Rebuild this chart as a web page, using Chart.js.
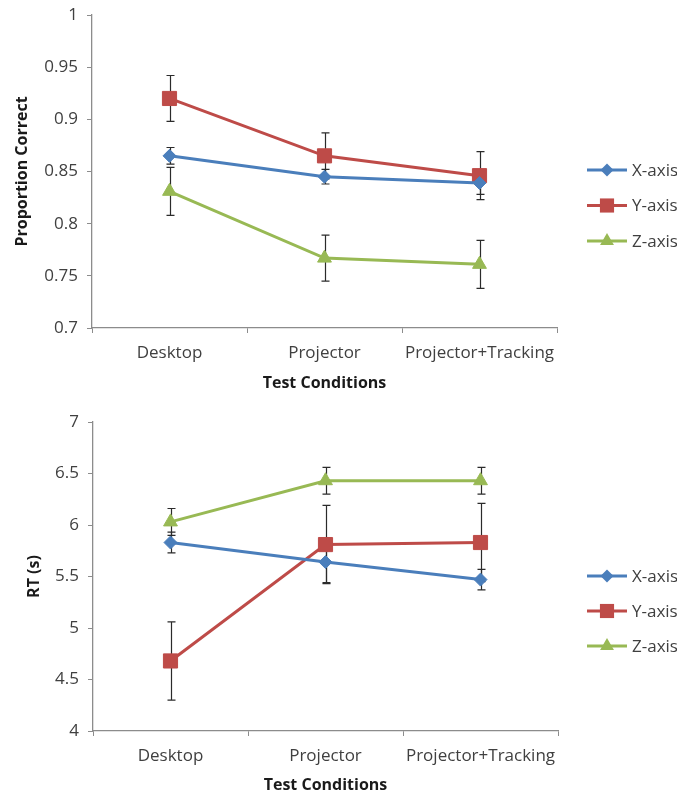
<!DOCTYPE html>
<html>
<head>
<meta charset="utf-8">
<script src="https://cdn.jsdelivr.net/npm/chart.js@4.4.1/dist/chart.umd.min.js"></script>
<style>
  body { margin: 0; background: #fff; }
  .panel { position: absolute; left: 0; width: 677px; }
</style>
</head>
<body>
<div class="panel" style="top:0;height:400px"><canvas id="acc-chart"></canvas></div>
<div class="panel" style="top:400px;height:397px"><canvas id="rt-chart"></canvas></div>
<script>
/* ── Données ── */
const conditions = ['Desktop', 'Projector', 'Projector+Tracking'];

const accX = [0.865, 0.845, 0.839];
const accXErr = [0.008, 0.007, 0.011];
const accY = [0.920, 0.865, 0.846];
const accYErr = [0.022, 0.022, 0.023];
const accZ = [0.831, 0.767, 0.761];
const accZErr = [0.023, 0.022, 0.023];
const accTicks = [0.7, 0.75, 0.8, 0.85, 0.9, 0.95, 1];

const rtX = [5.83, 5.64, 5.47];
const rtXErr = [0.10, 0.20, 0.10];
const rtY = [4.68, 5.81, 5.83];
const rtYErr = [0.38, 0.38, 0.38];
const rtZ = [6.03, 6.43, 6.43];
const rtZErr = [0.13, 0.13, 0.13];
const rtTicks = [4, 4.5, 5, 5.5, 6, 6.5, 7];

/* ── Style ── */
const AXIS = '#8c8c8c';
const TEXT = '#404040';
const TITLE = '#1a1a1a';
const FONT = '"Open Sans", "Liberation Sans", sans-serif';

const SERIES = [
  { name: 'X-axis', color: '#4A7EBB', marker: 'rectRot', radius: 6.5 },
  { name: 'Y-axis', color: '#BE4B48', marker: 'rect', radius: 10 },
  { name: 'Z-axis', color: '#98B954', marker: 'triangle', radius: 8 },
];

/* ── Barres d'erreur ── */
const errorBars = {
  id: 'errorBars',
  beforeDatasetsDraw(chart, args, opts) {
    const { ctx } = chart;
    const y = chart.scales.y;
    ctx.save();
    ctx.strokeStyle = opts.color;
    ctx.lineWidth = opts.width;
    chart.data.datasets.forEach((ds, i) => {
      chart.getDatasetMeta(i).data.forEach((pt, j) => {
        const v = ds.data[j], e = ds.errors[j];
        const top = y.getPixelForValue(v + e);
        const bot = y.getPixelForValue(v - e);
        const x = Math.round(pt.x) + 0.5;
        ctx.beginPath();
        ctx.moveTo(x, top); ctx.lineTo(x, bot);
        ctx.moveTo(x - opts.cap, top); ctx.lineTo(x + opts.cap, top);
        ctx.moveTo(x - opts.cap, bot); ctx.lineTo(x + opts.cap, bot);
        ctx.stroke();
      });
    });
    ctx.restore();
  }
};

/* ── Légende à droite (ligne + marqueur) ── */
function drawMarker(ctx, style, x, y, r) {
  ctx.beginPath();
  if (style === 'rectRot') {
    ctx.moveTo(x - r, y); ctx.lineTo(x, y - r); ctx.lineTo(x + r, y); ctx.lineTo(x, y + r);
  } else if (style === 'rect') {
    const s = r * Math.SQRT1_2;
    ctx.rect(x - s, y - s, 2 * s, 2 * s);
  } else {
    const a = Math.PI * 2 / 3;
    ctx.moveTo(x, y - r);
    ctx.lineTo(x + Math.sin(a) * r, y - Math.cos(a) * r);
    ctx.lineTo(x - Math.sin(a) * r, y - Math.cos(a) * r);
  }
  ctx.closePath();
  ctx.fill();
}

const sideLegend = {
  id: 'sideLegend',
  afterDraw(chart, args, opts) {
    const { ctx } = chart;
    ctx.save();
    ctx.font = '17px ' + FONT;
    ctx.textBaseline = 'middle';
    SERIES.forEach((s, i) => {
      const y = opts.top + i * opts.gap;
      ctx.strokeStyle = s.color;
      ctx.fillStyle = s.color;
      ctx.lineWidth = 3;
      ctx.beginPath();
      ctx.moveTo(opts.x, y); ctx.lineTo(opts.x + 40, y);
      ctx.stroke();
      drawMarker(ctx, s.marker, opts.x + 20, y, s.radius);
      ctx.fillStyle = TEXT;
      ctx.fillText(s.name, opts.x + 45, y + 1);
    });
    ctx.restore();
  }
};

/* ── Construction d'un graphique ── */
function makeChart(id, cfg) {
  return new Chart(document.getElementById(id), {
    type: 'line',
    data: {
      labels: conditions,
      datasets: SERIES.map((s, i) => ({
        label: s.name,
        data: cfg.values[i],
        errors: cfg.errors[i],
        borderColor: s.color,
        backgroundColor: s.color,
        pointBackgroundColor: s.color,
        pointBorderColor: s.color,
        pointStyle: s.marker,
        pointRadius: s.radius,
        pointHoverRadius: s.radius,
        pointBorderWidth: 1,
        borderWidth: 3,
        tension: 0,
        clip: false,
      }))
    },
    options: {
      responsive: true,
      maintainAspectRatio: false,
      animation: false,
      events: [],
      layout: { padding: { top: cfg.padTop, right: cfg.padRight, bottom: 0, left: cfg.padLeft } },
      plugins: {
        legend: { display: false },
        tooltip: { enabled: false },
        errorBars: { color: '#2b2b2b', width: 1.2, cap: 4 },
        sideLegend: { x: 587, top: cfg.legendTop, gap: cfg.legendGap },
      },
      scales: {
        x: {
          offset: true,
          grid: { display: true, drawOnChartArea: false, offset: true, tickLength: 5, color: AXIS },
          border: { color: AXIS, width: 1.3 },
          ticks: { color: TEXT, font: { family: FONT, size: 17 }, padding: cfg.xTickPad, maxRotation: 0 },
          title: {
            display: true, text: 'Test Conditions', color: TITLE,
            font: { family: FONT, size: 16, weight: 'bold' },
            padding: { top: 0, bottom: cfg.xTitlePad }
          },
          afterFit: s => { s.height = cfg.xHeight; s.paddingLeft = 0; s.paddingRight = 0; }
        },
        y: {
          min: cfg.ticks[0],
          max: cfg.ticks[cfg.ticks.length - 1],
          afterBuildTicks: s => { s.ticks = cfg.ticks.map(v => ({ value: v })); },
          grid: { drawOnChartArea: false, tickLength: 5, color: AXIS },
          border: { color: AXIS, width: 1.3 },
          ticks: { color: TEXT, font: { family: FONT, size: 17 }, padding: 9, callback: v => String(v) },
          title: {
            display: true, text: cfg.yTitle, color: TITLE,
            font: { family: FONT, size: 16, weight: 'bold' },
            padding: { top: 13, bottom: 0 }
          },
          afterFit: s => { s.width = cfg.yWidth; s.paddingTop = 0; s.paddingBottom = 0; }
        }
      }
    },
    plugins: [errorBars, sideLegend]
  });
}

makeChart('acc-chart', {
  values: [accX, accY, accZ],
  errors: [accXErr, accYErr, accZErr],
  ticks: accTicks,
  yTitle: 'Proportion Correct',
  padTop: 15, padRight: 120, padLeft: 0, yWidth: 92,
  xHeight: 72, xTickPad: 10, xTitlePad: 7,
  legendTop: 170, legendGap: 35.5,
});

makeChart('rt-chart', {
  values: [rtX, rtY, rtZ],
  errors: [rtXErr, rtYErr, rtZErr],
  ticks: rtTicks,
  yTitle: 'RT (s)',
  padTop: 22, padRight: 119, padLeft: 12, yWidth: 81,
  xHeight: 66, xTickPad: 10, xTitlePad: 2,
  legendTop: 176, legendGap: 35,
});
</script>
</body>
</html>
